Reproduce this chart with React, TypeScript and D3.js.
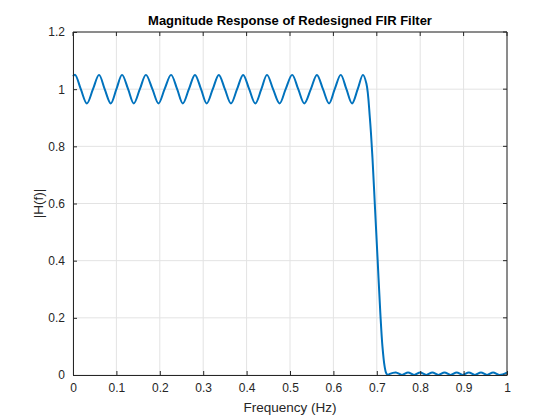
import React, { useEffect, useRef } from "react";
import * as d3 from "d3";

// frequency (Hz)
const freq = [
  0, 0.005, 0.018, 0.032, 0.046, 0.06, 0.073, 0.087, 0.1, 0.113, 0.127, 0.14, 0.154, 0.168,
  0.183, 0.197, 0.211, 0.226, 0.24, 0.253, 0.267, 0.281, 0.295, 0.308, 0.322, 0.336,
  0.35, 0.364, 0.378, 0.392, 0.406, 0.42, 0.434, 0.447, 0.461, 0.476, 0.49, 0.505,
  0.519, 0.533, 0.548, 0.562, 0.576, 0.59, 0.603, 0.617, 0.63, 0.643, 0.656, 0.668,
  0.676, 0.684, 0.69, 0.696, 0.702, 0.708, 0.713, 0.718, 0.722, 0.726, 0.73,
  0.744, 0.758, 0.772, 0.786, 0.8, 0.814, 0.828, 0.842, 0.856, 0.87, 0.884, 0.898,
  0.912, 0.926, 0.94, 0.954, 0.968, 0.982, 1,
];
// |H(f)| at each frequency
const mag = [
  1.045, 1.05, 1.0, 0.95, 1.0, 1.05, 1.0, 0.95, 1.0, 1.05, 1.0, 0.95, 1.0, 1.05,
  1.0, 0.95, 1.0, 1.05, 1.0, 0.95, 1.0, 1.05, 1.0, 0.95, 1.0, 1.05,
  1.0, 0.95, 1.0, 1.05, 1.0, 0.95, 1.0, 1.05, 1.0, 0.95, 1.0, 1.05,
  1.0, 0.95, 1.0, 1.05, 1.0, 0.95, 1.0, 1.05, 1.0, 0.95, 1.0, 1.05,
  1.02, 0.9, 0.76, 0.58, 0.4, 0.22, 0.1, 0.03, 0.005, 0.0, 0.004,
  0.009, 0.0, 0.009, 0.0, 0.009, 0.0, 0.009, 0.0, 0.009, 0.0, 0.009, 0.0,
  0.009, 0.0, 0.009, 0.0, 0.009, 0.0, 0.008,
];
const xTicks = [0, 0.1, 0.2, 0.3, 0.4, 0.5, 0.6, 0.7, 0.8, 0.9, 1];
const yTicks = [0, 0.2, 0.4, 0.6, 0.8, 1, 1.2];

export default function App() {
  const ref = useRef<SVGSVGElement | null>(null);

  useEffect(() => {
    if (!ref.current) return;
    const svg = d3.select(ref.current);
    svg.selectAll("*").remove();

    const left = 73, right = 507, top = 32, bottom = 375;
    const x = d3.scaleLinear().domain([0, 1]).range([left, right]);
    const y = d3.scaleLinear().domain([0, 1.2]).range([bottom, top]);
    const font = "'Liberation Sans', Arial, sans-serif";

    svg.append("rect").attr("width", 560).attr("height", 420).attr("fill", "#fff");

    // grid
    const grid = svg.append("g").attr("stroke", "#e3e3e3").attr("stroke-width", 1);
    xTicks.forEach(t => grid.append("line").attr("x1", x(t)).attr("x2", x(t)).attr("y1", top).attr("y2", bottom));
    yTicks.forEach(t => grid.append("line").attr("x1", left).attr("x2", right).attr("y1", y(t)).attr("y2", y(t)));

    // response
    const pts = freq.map((f, i) => [f, mag[i]] as [number, number]);
    svg.append("path")
      .datum(pts)
      .attr("fill", "none")
      .attr("stroke", "#0072BD")
      .attr("stroke-width", 2)
      .attr("d", d3.line().x(d => x(d[0])).y(d => y(d[1])).curve(d3.curveCatmullRom.alpha(0.5)));

    // axes
    const xa = svg.append("g").attr("transform", `translate(0,${bottom})`)
      .call(d3.axisBottom(x).tickValues(xTicks).tickFormat(d3.format("")).tickSizeInner(-4).tickSizeOuter(0).tickPadding(8));
    const ya = svg.append("g").attr("transform", `translate(${left},0)`)
      .call(d3.axisLeft(y).tickValues(yTicks).tickFormat(d3.format("")).tickSizeInner(-4).tickSizeOuter(0).tickPadding(8));
    [xa, ya].forEach(a => {
      a.selectAll("text").attr("font-family", font).attr("font-size", 12).attr("fill", "#262626");
      a.selectAll("line,path").attr("stroke", "#262626");
    });
    // box top/right with ticks
    svg.append("line").attr("x1", left).attr("x2", right).attr("y1", top).attr("y2", top).attr("stroke", "#262626");
    svg.append("line").attr("x1", right).attr("x2", right).attr("y1", top).attr("y2", bottom).attr("stroke", "#262626");
    xTicks.forEach(t => svg.append("line").attr("x1", x(t)).attr("x2", x(t)).attr("y1", top).attr("y2", top + 4).attr("stroke", "#262626"));
    yTicks.forEach(t => svg.append("line").attr("x1", right).attr("x2", right - 4).attr("y1", y(t)).attr("y2", y(t)).attr("stroke", "#262626"));

    svg.append("text").attr("x", (left + right) / 2).attr("y", 25).attr("text-anchor", "middle")
      .attr("font-family", font).attr("font-size", 13).attr("font-weight", "bold").attr("fill", "#000")
      .text("Magnitude Response of Redesigned FIR Filter");
    svg.append("text").attr("x", (left + right) / 2).attr("y", 412).attr("text-anchor", "middle")
      .attr("font-family", font).attr("font-size", 13.5).attr("fill", "#262626").text("Frequency (Hz)");
    svg.append("text").attr("transform", `translate(43,${(top + bottom) / 2}) rotate(-90)`).attr("text-anchor", "middle")
      .attr("font-family", font).attr("font-size", 13.5).attr("fill", "#262626").text("|H(f)|");
  }, []);

  return <svg ref={ref} width={560} height={420} style={{ position: "absolute", left: 0, top: 0 }} />;
}
